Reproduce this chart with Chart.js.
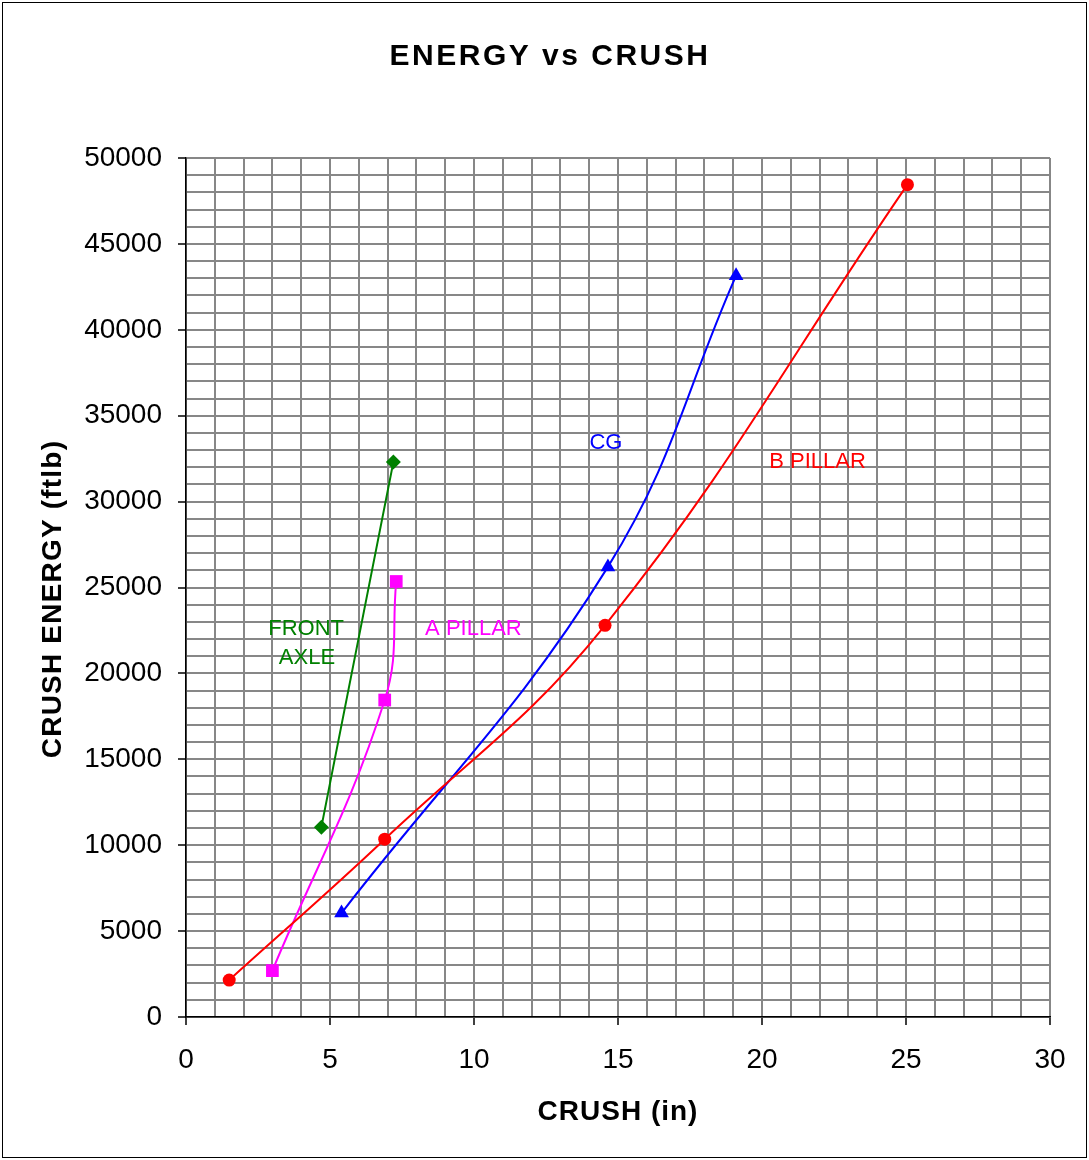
<!DOCTYPE html>
<html>
<head>
<meta charset="utf-8">
<title>ENERGY vs CRUSH</title>
<script src="https://cdn.jsdelivr.net/npm/chart.js@4.4.1/dist/chart.umd.min.js"></script>
<style>
  html, body { margin: 0; padding: 0; background: #fff; }
  canvas { display: block; }
</style>
</head>
<body>
<canvas id="chart" width="1089" height="1160"></canvas>
<script>
// values
const bPillarCrush = [1.5, 6.9, 14.55, 25.05];
const bPillarEnergy = [2150, 10350, 22800, 48450];
const cgCrush = [5.4, 14.65, 19.1];
const cgEnergy = [6050, 26200, 43150];
const frontAxleCrush = [4.7, 7.2];
const frontAxleEnergy = [11050, 32300];
const aPillarCrush = [3.0, 6.9, 7.3];
const aPillarEnergy = [2700, 18450, 25350];

const xTicksMajor = [0, 5, 10, 15, 20, 25, 30];
const yTicksMajor = [0, 5000, 10000, 15000, 20000, 25000, 30000, 35000, 40000, 45000, 50000];

const chartTitle = 'ENERGY vs CRUSH';
const xTitle = 'CRUSH (in)';
const yTitle = 'CRUSH ENERGY (ftlb)';

// series names, shown on the plot next to each curve (x, y in data units)
const seriesLabels = [
  { text: 'CG', x: 14.58, y: 33400, color: '#0000ff' },
  { text: 'B PILLAR', x: 21.93, y: 32300, color: '#ff0000' },
  { text: 'A PILLAR', x: 9.98, y: 22580, color: '#ff00ff' },
  { text: 'FRONT', x: 4.17, y: 22580, color: '#008000' },
  { text: 'AXLE', x: 4.2, y: 20900, color: '#008000' },
];

const toPoints = (xs, ys) => xs.map((x, i) => ({ x: x, y: ys[i] }));

const FONT = '"Liberation Sans", Arial, sans-serif';

const textPlugin = {
  id: 'texts',
  afterDraw(chart) {
    const c = chart.ctx;
    const sx = chart.scales.x;
    const sy = chart.scales.y;
    c.save();
    // outer frame
    c.strokeStyle = '#000';
    c.lineWidth = 1;
    c.strokeRect(2.5, 2.5, chart.width - 5, chart.height - 5);

    c.fillStyle = '#000';
    c.textAlign = 'center';
    c.textBaseline = 'middle';
    c.font = 'bold 30px ' + FONT;
    c.letterSpacing = '2.5px';
    c.fillText(chartTitle, 550, 57);

    c.font = 'bold 28px ' + FONT;
    c.letterSpacing = '1px';
    c.fillText(xTitle, 618, 1112);

    c.save();
    c.translate(53, 599);
    c.rotate(-Math.PI / 2);
    c.letterSpacing = '1.2px';
    c.fillText(yTitle, 0, 0);
    c.restore();

    c.letterSpacing = '0px';
    c.font = '22px ' + FONT;
    seriesLabels.forEach((l) => {
      c.fillStyle = l.color;
      c.fillText(l.text, sx.getPixelForValue(l.x), sy.getPixelForValue(l.y));
    });
    c.restore();
  },
};

const ctx = document.getElementById('chart').getContext('2d');

new Chart(ctx, {
  type: 'scatter',
  plugins: [textPlugin],
  data: {
    datasets: [
      {
        label: 'B PILLAR',
        data: toPoints(bPillarCrush, bPillarEnergy),
        borderColor: '#ff0000',
        backgroundColor: '#ff0000',
        pointStyle: 'circle',
        pointRadius: 6.5,
      },
      {
        label: 'CG',
        data: toPoints(cgCrush, cgEnergy),
        borderColor: '#0000ff',
        backgroundColor: '#0000ff',
        pointStyle: 'triangle',
        pointRadius: 8.5,
      },
      {
        label: 'FRONT AXLE',
        data: toPoints(frontAxleCrush, frontAxleEnergy),
        borderColor: '#008000',
        backgroundColor: '#008000',
        pointStyle: 'rectRot',
        pointRadius: 7.5,
      },
      {
        label: 'A PILLAR',
        data: toPoints(aPillarCrush, aPillarEnergy),
        borderColor: '#ff00ff',
        backgroundColor: '#ff00ff',
        pointStyle: 'rect',
        pointRadius: 9,
      },
    ],
  },
  options: {
    responsive: false,
    animation: false,
    devicePixelRatio: 1,
    datasets: {
      scatter: {
        showLine: true,
        borderWidth: 2,
        tension: 0.4,
        pointBorderWidth: 0,
        pointHoverRadius: 7,
      },
    },
    layout: {
      padding: { top: 158, right: 39, left: 0, bottom: 0 },
    },
    plugins: {
      legend: { display: false },
      title: { display: false },
      tooltip: { enabled: false },
    },
    scales: {
      x: {
        type: 'linear',
        min: 0,
        max: 30,
        afterFit: (scale) => { scale.height = 143; },
        ticks: {
          stepSize: 1,
          autoSkip: false,
          maxRotation: 0,
          padding: 18,
          color: '#000',
          font: { family: FONT, size: 28 },
          callback: (v) => (xTicksMajor.includes(v) ? v : ''),
        },
        grid: {
          color: '#878787',
          lineWidth: 2,
          tickLength: 8,
          tickWidth: 1.5,
          tickColor: (c) => (c.tick && xTicksMajor.includes(c.tick.value) ? '#000' : 'rgba(0,0,0,0)'),
        },
        border: { color: '#000', width: 1.5 },
      },
      y: {
        type: 'linear',
        min: 0,
        max: 50000,
        afterFit: (scale) => { scale.width = 186; },
        ticks: {
          stepSize: 1000,
          autoSkip: false,
          padding: 16,
          color: '#000',
          font: { family: FONT, size: 28 },
          callback: (v) => (yTicksMajor.includes(v) ? v : ''),
        },
        grid: {
          color: '#878787',
          lineWidth: 2,
          tickLength: 8,
          tickWidth: 1.5,
          tickColor: (c) => (c.tick && yTicksMajor.includes(c.tick.value) ? '#000' : 'rgba(0,0,0,0)'),
        },
        border: { color: '#000', width: 1.5 },
      },
    },
  },
});
</script>
</body>
</html>
